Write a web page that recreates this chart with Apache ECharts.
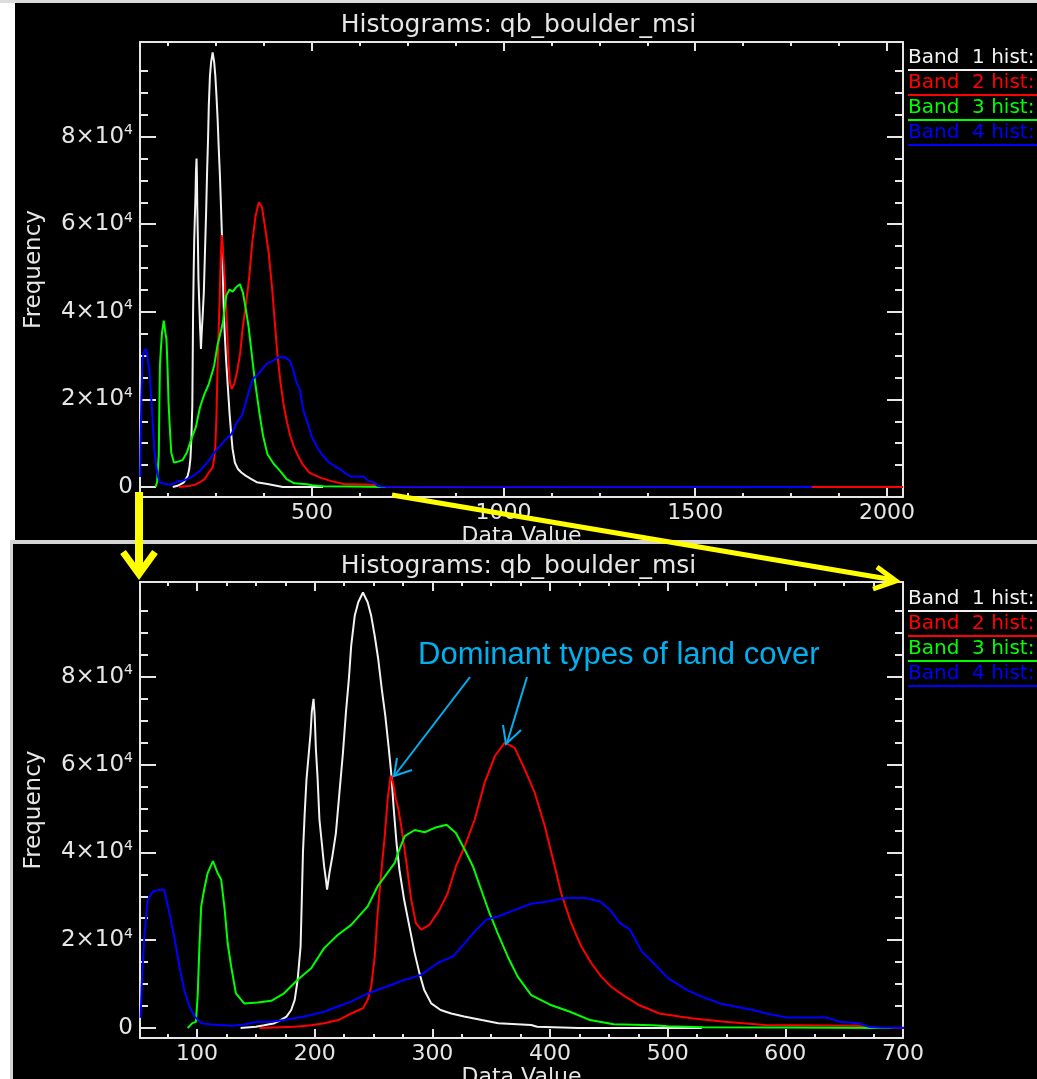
<!DOCTYPE html>
<html><head><meta charset="utf-8">
<script src="https://cdn.jsdelivr.net/npm/echarts@6/dist/echarts.min.js"></script>
<style>html,body{margin:0;padding:0;background:#fff}#c{width:1037px;height:1079px}</style>
</head><body><div id="c"></div>
<script>
// ---------- data ----------
const seriesNames = ['Band 1 hist:', 'Band 2 hist:', 'Band 3 hist:', 'Band 4 hist:'];
const titleText = 'Histograms: qb_boulder_msi';

const band1 = [[137,0],[150,300],[157,600],[165,1000],[171,1800],[176,2600],[180,4100],[183,6400],[185.5,11000],[188,18600],[189,29000],[190,40000],[191.5,49000],[193,56600],[195,62700],[196.5,67300],[197.5,72000],[199,75000],[200,71000],[201,63500],[202.5,56600],[204,47500],[206,42200],[208,36800],[209.5,33800],[210.5,31500],[212.5,35300],[215,39100],[218,44400],[221,53600],[224,62700],[226.5,71800],[229,79400],[231,87100],[234,93900],[237,97000],[241,99200],[245,97000],[248,93900],[251,89300],[254,84000],[257,77200],[260,71100],[263,63500],[265,58100],[267,50500],[269.5,42200],[272,36000],[276,29200],[280.5,23100],[285,17000],[289,12500],[293,8700],[299,5600],[307,4100],[316,3300],[327,2600],[342,1800],[356,1100],[384,700],[389,300],[424,0],[529,0]];

const band2 = [[153,0],[183,300],[197,600],[208,1100],[220,1800],[231,3300],[241,4500],[245,6400],[248,9400],[251,16300],[253.5,26200],[256.5,35300],[259.5,43700],[262,52100],[264.5,57500],[266.5,55900],[269,52100],[271,50000],[273.5,46000],[278,37600],[282,29200],[286,23900],[290.5,22400],[297.5,23500],[306,26900],[313,30700],[320,36800],[327.5,41400],[336,47500],[344.5,55900],[353,61900],[361.5,65000],[370,63800],[378.5,58900],[387,53600],[395.5,46000],[404,36800],[409.5,30700],[418,23900],[426.5,18600],[435,14800],[443.5,11700],[452,9400],[463.5,7200],[475,5300],[493,3300],[500,3000],[520,2200],[548.5,1400],[582.5,700],[662,500],[670,0],[2042,0]];

const band3 = [[92,0],[96,1100],[99,1400],[100.5,7200],[102,18600],[103.5,27700],[106,31500],[109,35300],[113.5,38000],[117.5,35300],[120.5,33800],[123.5,26900],[126,19300],[129,14000],[133,7900],[140,5600],[151.5,5800],[163,6200],[174,7900],[185.5,11000],[197,13600],[208,18200],[219.5,21200],[231,23500],[245,27700],[253.5,32300],[259.5,34500],[268,37600],[271,40000],[276.5,43700],[285,45100],[293.5,44600],[302,45600],[312,46300],[320,44400],[327.5,40600],[334.5,36800],[341.5,31500],[348.5,26200],[355.5,21600],[364,16300],[372.5,11700],[384,7500],[400,5300],[417,3700],[434,1800],[454,850],[487,650],[500,400],[530,150],[600,100],[691,0]];

const band4 = [[52,2300],[53,10200],[55,20100],[58,29200],[62.5,31100],[68,31500],[72,31500],[76.5,26200],[81,20100],[85,14000],[89,8700],[93.5,4900],[98,2600],[103.5,1100],[112,800],[129,500],[140,800],[151.5,1400],[163,1400],[174,1800],[191,2600],[208,3700],[219.5,4900],[231,6000],[242,7500],[253.5,8700],[265,9800],[272,10600],[290.5,12100],[304.5,14800],[317.5,16300],[327.5,19300],[336,22000],[346,24700],[356,25400],[370,26900],[384,28300],[398,28800],[412,29600],[430,29600],[442.5,28800],[451,26900],[459.5,23900],[468,22400],[478,17400],[488,14800],[500.5,11300],[516,8700],[527.5,7300],[544.5,5600],[572.5,4100],[584,3300],[601,2400],[635,2400],[646.5,1400],[663.5,1000],[670.5,300],[680,100],[700,50],[1804,0]];

const yMajorTicks = [0, 20000, 40000, 60000, 80000];
const yMinorTicks = [5000,10000,15000,25000,30000,35000,45000,50000,55000,65000,70000,75000,85000,90000,95000];
const topXMajor = [500, 1000, 1500, 2000];
const topXMinor = [125,250,375,625,750,875,1125,1250,1375,1625,1750,1875];
const botXMajor = [100, 200, 300, 400, 500, 600, 700];
const botXMinor = [75,125,150,175,225,250,275,325,350,375,425,450,475,525,550,575,625,650,675];

// ---------- styling ----------
const FG = '#e6e6e6';
const FONT = 'DejaVu Sans';
const colors = ['#f2f2f2', '#ff0000', '#00ff00', '#0000ff'];
const bands = [band1, band2, band3, band4];
const Y_MIN = -2280, Y_MAX = 101600;
const X_MIN = 51.5;
const grids = [
  {left: 140, top: 42, width: 763, height: 455, xMax: 2042, major: topXMajor, minor: topXMinor},
  {left: 140, top: 582, width: 763, height: 456, xMax: 700, major: botXMajor, minor: botXMinor}
];

const lineSt = {color: FG, width: 2};
const xAxis = [], yAxis = [], series = [];
grids.forEach((g, gi) => {
  const baseX = {gridIndex: gi, type: 'value', min: X_MIN, max: g.xMax, splitLine: {show: false}};
  xAxis.push(Object.assign({}, baseX, {position: 'bottom',
    axisLine: {show: true, onZero: false, lineStyle: lineSt},
    axisTick: {show: true, inside: true, length: 9, customValues: g.major, lineStyle: lineSt},
    axisLabel: {show: true, customValues: g.major, color: FG, fontFamily: FONT, fontSize: 22, margin: 5,
      formatter: v => String(v)},
    name: 'Data Value', nameLocation: 'middle', nameGap: 20,
    nameTextStyle: {color: FG, fontFamily: FONT, fontSize: 22, verticalAlign: 'top'}}));
  xAxis.push(Object.assign({}, baseX, {position: 'bottom',
    axisLine: {show: false, onZero: false},
    axisTick: {show: true, inside: true, length: 4, customValues: g.minor, lineStyle: lineSt},
    axisLabel: {show: false}}));
  xAxis.push(Object.assign({}, baseX, {position: 'top',
    axisLine: {show: true, onZero: false, lineStyle: lineSt},
    axisTick: {show: true, inside: true, length: 9, customValues: g.major, lineStyle: lineSt},
    axisLabel: {show: false}}));
  xAxis.push(Object.assign({}, baseX, {position: 'top',
    axisLine: {show: false, onZero: false},
    axisTick: {show: true, inside: true, length: 4, customValues: g.minor, lineStyle: lineSt},
    axisLabel: {show: false}}));

  const baseY = {gridIndex: gi, type: 'value', min: Y_MIN, max: Y_MAX, splitLine: {show: false}};
  yAxis.push(Object.assign({}, baseY, {position: 'left',
    axisLine: {show: true, onZero: false, lineStyle: lineSt},
    axisTick: {show: true, inside: true, length: 16, customValues: yMajorTicks, lineStyle: lineSt},
    axisLabel: {show: true, customValues: yMajorTicks, color: FG, fontFamily: FONT, fontSize: 23, margin: 7,
      formatter: v => v === 0 ? '{a|0}' : '{a|' + (v / 10000) + '×10}{s|4}',
      rich: {a: {color: FG, fontFamily: FONT, fontSize: 23, lineHeight: 26},
             s: {color: FG, fontFamily: FONT, fontSize: 14, lineHeight: 26, verticalAlign: 'top'}}},
    name: 'Frequency', nameLocation: 'middle', nameGap: 94, nameRotate: 90,
    nameTextStyle: {color: FG, fontFamily: FONT, fontSize: 23}}));
  yAxis.push(Object.assign({}, baseY, {position: 'left',
    axisLine: {show: false, onZero: false},
    axisTick: {show: true, inside: true, length: 8, customValues: yMinorTicks, lineStyle: lineSt},
    axisLabel: {show: false}}));
  yAxis.push(Object.assign({}, baseY, {position: 'right',
    axisLine: {show: true, onZero: false, lineStyle: lineSt},
    axisTick: {show: true, inside: true, length: 16, customValues: yMajorTicks, lineStyle: lineSt},
    axisLabel: {show: false}}));
  yAxis.push(Object.assign({}, baseY, {position: 'right',
    axisLine: {show: false, onZero: false},
    axisTick: {show: true, inside: true, length: 8, customValues: yMinorTicks, lineStyle: lineSt},
    axisLabel: {show: false}}));

  bands.forEach((b, i) => {
    series.push({type: 'line', name: seriesNames[i], xAxisIndex: gi * 4, yAxisIndex: gi * 4,
      data: b, showSymbol: false, symbol: 'none', clip: true,
      lineStyle: {color: colors[i], width: 2}, itemStyle: {color: colors[i]}});
  });
});

const legendTops = [48, 589];
const legend = legendTops.map(t => ({
  orient: 'vertical', left: 903, top: t, padding: 0, itemGap: 5,
  itemWidth: 0, itemHeight: 1, icon: 'rect', itemStyle: {opacity: 0}, selectedMode: false,
  formatter: n => n.replace(' ', '  '),
  textStyle: {fontFamily: FONT, fontSize: 20, lineHeight: 20},
  data: seriesNames.map((n, i) => ({name: n, textStyle: {color: colors[i]}}))
}));

const title = [13, 554].map(t => ({
  text: titleText, left: 'center', top: t, padding: [0, 0, 0, 6],
  textStyle: {color: FG, fontFamily: FONT, fontSize: 25, fontWeight: 'normal'}
}));

const graphic = [
  {type: 'rect', shape: {x: 0, y: 0, width: 1037, height: 3}, style: {fill: '#dcdcdc'}, z: -20, silent: true},
  {type: 'rect', shape: {x: 15, y: 3, width: 1022, height: 537}, style: {fill: '#000'}, z: -20, silent: true},
  {type: 'rect', shape: {x: 10, y: 540, width: 1027, height: 4}, style: {fill: '#d4d4d4'}, z: -20, silent: true},
  {type: 'rect', shape: {x: 10, y: 540, width: 3, height: 539}, style: {fill: '#d4d4d4'}, z: -20, silent: true},
  {type: 'rect', shape: {x: 13, y: 544, width: 1024, height: 535}, style: {fill: '#000'}, z: -20, silent: true}
];
[0, 541].forEach(off => {
  colors.forEach((c, i) => {
    graphic.push({type: 'line', shape: {x1: 908, y1: 70 + 25 * i + off, x2: 1037, y2: 70 + 25 * i + off},
      style: {stroke: c, lineWidth: 2}, z: 50, silent: true});
  });
});
const YEL = '#ffff00', CY = '#00b0f0';
graphic.push(
  {type: 'line', shape: {x1: 139, y1: 492, x2: 139, y2: 572}, style: {stroke: YEL, lineWidth: 8}, z: 100, silent: true},
  {type: 'polyline', shape: {points: [[123, 552], [139, 574], [155, 552]]}, style: {stroke: YEL, lineWidth: 7, fill: null, lineJoin: 'miter'}, z: 100, silent: true},
  {type: 'line', shape: {x1: 392, y1: 495, x2: 894, y2: 580}, style: {stroke: YEL, lineWidth: 5}, z: 100, silent: true},
  {type: 'polyline', shape: {points: [[877, 567], [896, 581], [873, 589]]}, style: {stroke: YEL, lineWidth: 5, fill: null, lineJoin: 'miter'}, z: 100, silent: true},
  {type: 'text', style: {text: 'Dominant types of land cover', x: 418, y: 655, fill: CY,
    fontFamily: '"Liberation Sans", Arial, sans-serif', fontSize: 31, verticalAlign: 'middle', align: 'left'}, z: 100, silent: true},
  {type: 'line', shape: {x1: 470, y1: 677, x2: 395, y2: 775}, style: {stroke: CY, lineWidth: 2}, z: 100, silent: true},
  {type: 'polyline', shape: {points: [[397, 758], [394, 776], [412, 770]]}, style: {stroke: CY, lineWidth: 2, fill: null}, z: 100, silent: true},
  {type: 'line', shape: {x1: 527, y1: 677, x2: 507, y2: 743}, style: {stroke: CY, lineWidth: 2}, z: 100, silent: true},
  {type: 'polyline', shape: {points: [[503, 725], [506, 744], [521, 730]]}, style: {stroke: CY, lineWidth: 2, fill: null}, z: 100, silent: true}
);

const chart = echarts.init(document.getElementById('c'), null, {renderer: 'canvas'});
chart.setOption({
  backgroundColor: '#ffffff',
  animation: false,
  title: title,
  legend: legend,
  grid: grids.map(g => ({left: g.left, top: g.top, width: g.width, height: g.height, containLabel: false, outerBoundsMode: 'none'})),
  xAxis: xAxis,
  yAxis: yAxis,
  series: series,
  graphic: graphic
});
</script></body></html>
